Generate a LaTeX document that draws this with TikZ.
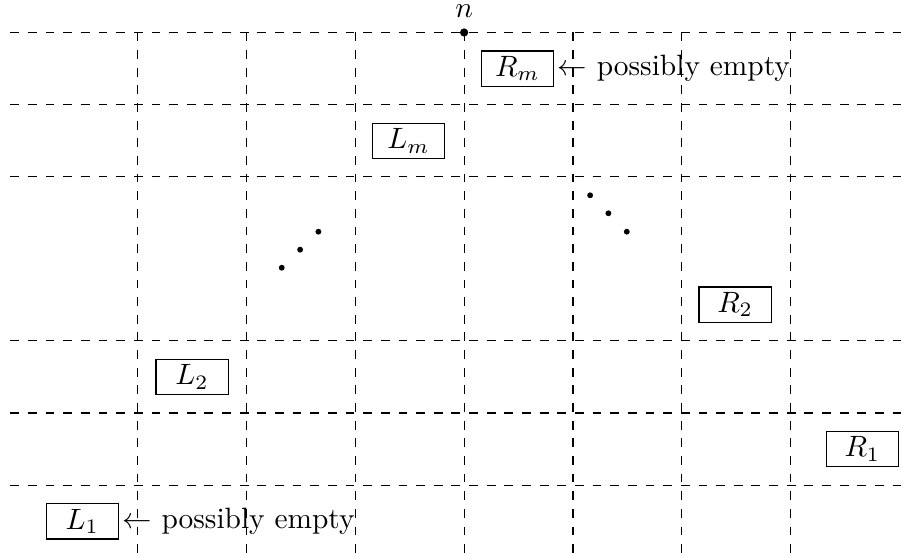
\documentclass[tikz,border=0pt]{standalone}
\begin{document}
\begin{tikzpicture}[x=37pt, y=24.55pt,
    blk/.style={draw, minimum width=24.5pt, minimum height=12pt, inner sep=0pt},
    grille/.style={dashed}]
        \useasboundingbox (-4.265,0.45) rectangle (4.07,-7.21);

        % Lignes horizontales (trois en haut, trois en bas)
        \def\xg{-4.17}
        \def\xd{4.07}
        \def\yb{-7.21}
        \draw[grille] (\xg,0) -- (\xd,0);
        \draw[grille] (\xg,-1) -- (\xd,-1);
        \draw[grille] (\xg,-2) -- (\xd,-2);
        \draw[grille] (\xg,-4.27) -- (\xd,-4.27);
        \draw[grille] (\xg,-5.27) -- (\xd,-5.27);
        \draw[grille] (\xg,-6.27) -- (\xd,-6.27);

        % Lignes verticales
        \draw[grille] (-3,0) -- (-3,\yb);
        \draw[grille] (-2,0) -- (-2,\yb);
        \draw[grille] (-1,0) -- (-1,\yb);
        \draw[grille] ( 0,0) -- ( 0,\yb);
        \draw[grille] ( 1,0) -- ( 1,\yb);
        \draw[grille] ( 2,0) -- ( 2,\yb);
        \draw[grille] ( 3,0) -- ( 3,\yb);

        % Point n
        \node[circle, fill, inner sep=0pt, minimum size=2.8pt,
              label={[inner sep=0.5pt, label distance=2.8pt]above:$n$}] (n) at (0,0) {};

        % Blocs
        \node[blk] (Rm) at ( 0.49,-0.5) {$R_m$};
        \node[blk] (Lm) at (-0.51,-1.5) {$L_m$};
        \node[blk] (R2) at ( 2.49,-3.77) {$R_2$};
        \node[blk] (L2) at (-2.5,-4.77) {$L_2$};
        \node[blk] (R1) at ( 3.66,-5.77) {$R_1$};
        \node[blk] (L1) at (-3.51,-6.77) {$L_1$};

        % Remarques
        \node[anchor=west, inner sep=1pt] (vRm) at (Rm.east) {$\leftarrow$ possibly empty};
        \node[anchor=west, inner sep=1pt] (vL1) at (L1.east) {$\leftarrow$ possibly empty};

        % Points de suspension
        \fill (-1.676,-3.258) circle (1pt);
        \fill (-1.507,-3.008) circle (1pt);
        \fill (-1.339,-2.759) circle (1pt);
        \fill ( 1.158,-2.255) circle (1pt);
        \fill ( 1.326,-2.504) circle (1pt);
        \fill ( 1.495,-2.759) circle (1pt);
    \end{tikzpicture}
\end{document}
